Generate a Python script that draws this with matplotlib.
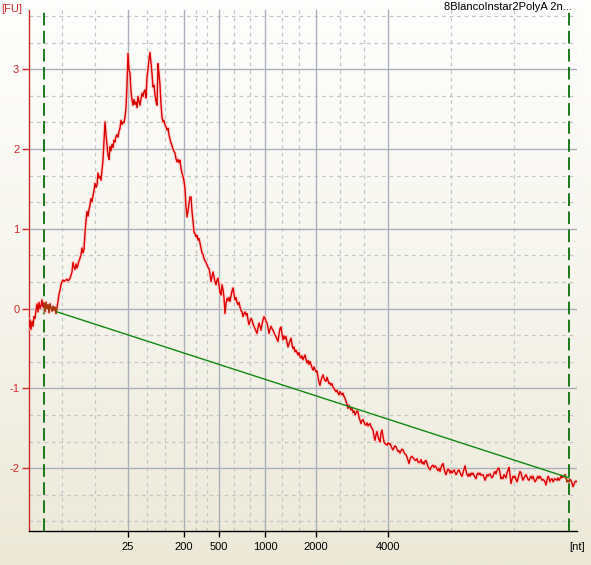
import numpy as np
import matplotlib
matplotlib.use("Agg")
import matplotlib.pyplot as plt
import matplotlib.patheffects as pe
from matplotlib.colors import LinearSegmentedColormap

# --- data (x axis = migration position, arbitrary units) ---------------------
trace_start = 29  # first sample position
trace_fu = [
    -0.24, -0.14, -0.26, -0.16, -0.22, -0.10, -0.12, -0.02, 0.06, -0.04,
    0.08, 0.00, 0.04, 0.11, 0.02, 0.07, -0.04, 0.08, 0.00, 0.05,
    -0.05, 0.06, 0.01, -0.03, 0.03, -0.02, 0.02, -0.06, 0.01, 0.09,
    0.18, 0.23, 0.30, 0.34, 0.36, 0.34, 0.35, 0.36, 0.37, 0.35,
    0.36, 0.38, 0.42, 0.46, 0.58, 0.52, 0.49, 0.56, 0.51, 0.55,
    0.60, 0.63, 0.68, 0.76, 0.70, 0.74, 0.95, 1.10, 1.22, 1.16,
    1.24, 1.30, 1.38, 1.34, 1.42, 1.48, 1.57, 1.52, 1.55, 1.70,
    1.64, 1.66, 1.61, 1.74, 1.86, 2.11, 2.34, 2.18, 2.05, 1.92,
    1.87, 2.03, 1.98, 2.06, 2.02, 2.11, 2.09, 2.16, 2.18, 2.15,
    2.22, 2.26, 2.36, 2.31, 2.34, 2.33, 2.40, 2.52, 2.80, 3.20,
    3.00, 2.95, 2.72, 2.62, 2.55, 2.62, 2.56, 2.59, 2.52, 2.66,
    2.60, 2.55, 2.63, 2.70, 2.66, 2.72, 2.74, 2.64, 2.90, 3.00,
    3.12, 3.21, 3.08, 2.95, 2.78, 2.80, 2.68, 2.60, 2.55, 3.07,
    2.95, 2.80, 2.56, 2.40, 2.34, 2.36, 2.30, 2.28, 2.24, 2.26,
    2.18, 2.12, 2.08, 2.04, 2.00, 1.97, 1.95, 1.88, 1.84, 1.87,
    1.83, 1.86, 1.76, 1.70, 1.66, 1.60, 1.50, 1.28, 1.15, 1.22,
    1.32, 1.40, 1.40, 1.22, 1.10, 0.96, 0.94, 0.90, 0.92, 0.86,
    0.88, 0.82, 0.76, 0.70, 0.68, 0.63, 0.60, 0.58, 0.55, 0.52,
    0.50, 0.44, 0.34, 0.40, 0.46, 0.40, 0.34, 0.30, 0.36, 0.38,
    0.30, 0.20, 0.17, 0.30, 0.24, 0.14, -0.06, 0.06, 0.13, 0.10,
    0.14, 0.09, 0.16, 0.22, 0.26, 0.18, 0.11, 0.14, 0.08, 0.05,
    0.08, 0.02, -0.02, -0.04, -0.10, -0.06, -0.04, -0.08, -0.06, -0.14,
    -0.20, -0.16, -0.12, -0.14, -0.19, -0.22, -0.25, -0.28, -0.31, -0.24,
    -0.18, -0.22, -0.27, -0.20, -0.14, -0.10, -0.12, -0.16, -0.18, -0.24,
    -0.31, -0.26, -0.22, -0.25, -0.27, -0.30, -0.33, -0.35, -0.38, -0.41,
    -0.32, -0.25, -0.23, -0.31, -0.39, -0.34, -0.38, -0.35, -0.42, -0.48,
    -0.44, -0.40, -0.37, -0.45, -0.50, -0.48, -0.54, -0.52, -0.55, -0.58,
    -0.55, -0.60, -0.62, -0.59, -0.64, -0.61, -0.58, -0.63, -0.68, -0.65,
    -0.70, -0.66, -0.70, -0.74, -0.77, -0.73, -0.76, -0.79, -0.78, -0.86,
    -0.92, -0.96, -0.90, -0.86, -0.83, -0.87, -0.90, -0.91, -0.86, -0.90,
    -0.94, -0.93, -0.96, -0.94, -0.98, -1.00, -1.02, -1.04, -1.02, -1.06,
    -1.08, -1.04, -1.06, -1.08, -1.06, -1.10, -1.12, -1.16, -1.20, -1.25,
    -1.21, -1.24, -1.27, -1.25, -1.30, -1.28, -1.33, -1.31, -1.28, -1.29,
    -1.36, -1.40, -1.44, -1.40, -1.39, -1.42, -1.45, -1.46, -1.43, -1.47,
    -1.45, -1.44, -1.48, -1.50, -1.52, -1.60, -1.65, -1.58, -1.54, -1.60,
    -1.64, -1.67, -1.56, -1.52, -1.60, -1.67, -1.69, -1.70, -1.71, -1.68,
    -1.70, -1.69, -1.72, -1.75, -1.77, -1.74, -1.72, -1.73, -1.76, -1.79,
    -1.78, -1.81, -1.78, -1.76, -1.77, -1.80, -1.82, -1.83, -1.86, -1.90,
    -1.94, -1.89, -1.86, -1.85, -1.87, -1.88, -1.90, -1.90, -1.88, -1.92,
    -1.93, -1.92, -1.89, -1.94, -1.92, -1.95, -1.91, -1.90, -1.94, -1.98,
    -2.00, -2.02, -1.99, -1.97, -1.96, -1.99, -1.97, -1.98, -2.01, -2.03,
    -2.00, -2.04, -1.99, -1.96, -1.94, -2.00, -2.05, -2.08, -2.04, -2.01,
    -2.02, -2.06, -2.03, -2.06, -2.04, -2.02, -2.05, -2.08, -2.06, -2.03,
    -2.02, -2.05, -2.08, -2.10, -2.06, -2.01, -1.97, -2.03, -2.08, -2.10,
    -2.07, -2.10, -2.06, -2.08, -2.06, -2.09, -2.11, -2.13, -2.08, -2.06,
    -2.08, -2.06, -2.09, -2.08, -2.08, -2.11, -2.15, -2.12, -2.08, -2.10,
    -2.08, -2.07, -2.10, -2.12, -2.10, -2.06, -2.04, -2.07, -2.03, -2.00,
    -2.00, -2.06, -2.13, -2.11, -2.13, -2.08, -2.10, -2.12, -2.06, -2.02,
    -1.99, -2.08, -2.19, -2.14, -2.10, -2.12, -2.10, -2.14, -2.17, -2.13,
    -2.08, -2.04, -2.06, -2.11, -2.15, -2.12, -2.10, -2.08, -2.11, -2.14,
    -2.15, -2.12, -2.10, -2.13, -2.10, -2.14, -2.17, -2.15, -2.12, -2.10,
    -2.13, -2.10, -2.12, -2.15, -2.14, -2.15, -2.17, -2.21, -2.15, -2.10,
    -2.12, -2.17, -2.14, -2.13, -2.17, -2.15, -2.13, -2.14, -2.15, -2.12,
    -2.15, -2.13, -2.10, -2.12, -2.10, -2.11, -2.08, -2.12, -2.17, -2.15,
    -2.17, -2.14, -2.15, -2.19, -2.23, -2.20, -2.17, -2.16, -2.17,
]
trace_t = np.arange(trace_start, trace_start + len(trace_fu))

ladder_nt = ["25", "200", "500", "1000", "2000", "4000"]
ladder_t = [128, 184, 219, 265, 316, 388]

baseline_t = [57, 569]
baseline_fu = [-0.04, -2.12]

marker_t = [44, 569]  # start / end of analysis window

title = "8BlancoInstar2PolyA 2n..."

# --- layout ---------------------------------------------------------------
W, H = 591, 565
XMIN, XMAX = 29, 577
YMIN, YMAX = -2.786, 3.743
RED = "#cc2a2a"

fig = plt.figure(figsize=(W / 100, H / 100), dpi=100)
plt.rcParams["font.family"] = ["Liberation Sans", "DejaVu Sans"]

# background gradient (white at top -> beige at bottom)
bg = fig.add_axes([0, 0, 1, 1], zorder=-10)
cmap = LinearSegmentedColormap.from_list("bg", ["#ece9d8", "#f6f5ee", "#fefefd"])
bg.imshow(np.linspace(0, 1, 256).reshape(-1, 1), aspect="auto", cmap=cmap,
          origin="lower", extent=[0, 1, 0, 1])
bg.axis("off")

ax = fig.add_axes([XMIN / W, (H - 531) / H, (XMAX - XMIN) / W, (531 - 10) / H])
ax.set_facecolor("none")
ax.set_xlim(XMIN, XMAX)
ax.set_ylim(YMIN, YMAX)

# grid: solid at ladder sizes / integer FU, dashed at thirds in between
x_major = [XMIN] + ladder_t + [XMAX]
x_minor = []
for a, b in zip(x_major[:-1], x_major[1:]):
    x_minor += [a + (b - a) / 3, a + 2 * (b - a) / 3]
y_major = np.arange(-2, 4)
y_minor = [v + k / 3 for v in range(-3, 4) for k in (1, 2)
           if YMIN < v + k / 3 < YMAX]

for x in x_minor:
    ax.axvline(x, color="#c6c6c6", lw=0.9, ls=(0, (3, 3)), zorder=1)
for y in y_minor:
    ax.axhline(y, color="#c6c6c6", lw=0.9, ls=(0, (3, 3)), zorder=1)
for x in ladder_t:
    ax.axvline(x, color="#aab0bb", lw=1.0, zorder=1)
for y in y_major:
    ax.axhline(y, color="#aab0bb", lw=1.0, zorder=1)
ax.axvline(XMAX, color="#c6c6c6", lw=0.9, ls=(0, (3, 3)), zorder=1)

# analysis window markers
for x in marker_t:
    ax.axvline(x, color="#0a6e0a", lw=1.3, ls=(0, (7, 3)), zorder=3)

# trace
ax.plot(trace_t, trace_fu, color="#dd0000", lw=1.0, zorder=4,
        path_effects=[pe.Stroke(linewidth=2.6, foreground="#ffc8c8", alpha=0.7),
                      pe.Normal()])
trace_arr = np.array(trace_fu)
for lo, hi in [(44, 57), (563, 571)]:
    m = (trace_t >= lo) & (trace_t <= hi)
    ax.plot(trace_t[m], trace_arr[m], color="#7a6010", lw=1.0, alpha=0.55, zorder=5)

# baseline
ax.plot(baseline_t, baseline_fu, color="#118811", lw=1.0, zorder=5)

# axes styling
for side in ("top", "right"):
    ax.spines[side].set_visible(False)
ax.spines["left"].set_color(RED)
ax.spines["left"].set_linewidth(1.0)
ax.spines["bottom"].set_color("black")
ax.spines["bottom"].set_linewidth(1.0)

ax.set_yticks(y_major)
ax.set_yticklabels([str(v) for v in y_major])
ax.tick_params(axis="y", colors=RED, length=5, width=1, pad=2, labelsize=8)
ax.set_xticks(ladder_t + [XMAX])
ax.set_xticklabels(ladder_nt + ["[nt]"])
ax.tick_params(axis="x", colors="black", length=4, width=1, pad=4, labelsize=8)
ax.get_xticklines()[-2].set_visible(False)

fig.text(1 / W, 1 - 9 / H, "[FU]", color=RED, fontsize=8, ha="left", va="center")
fig.text(572 / W, 1 - 7 / H, title, color="black", fontsize=8, ha="right", va="center")

fig.savefig("out.png", dpi=100)
